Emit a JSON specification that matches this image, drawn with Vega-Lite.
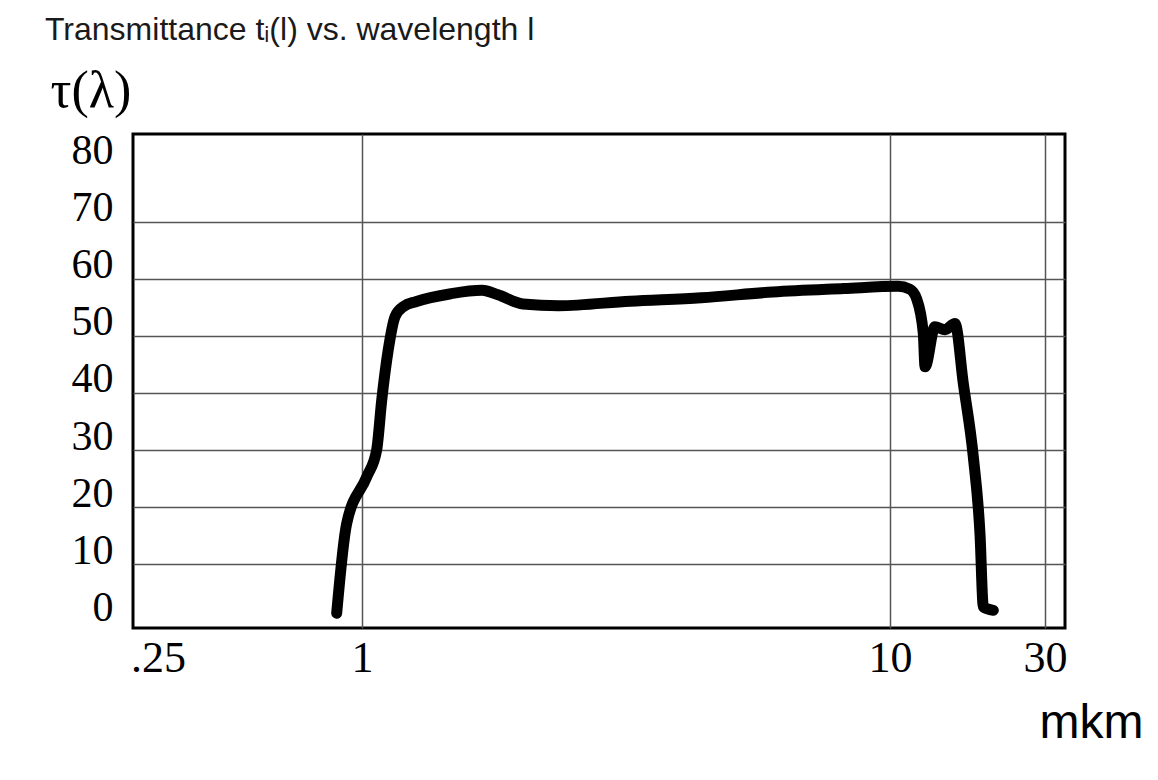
{
  "$schema": "https://vega.github.io/schema/vega-lite/v6.json",
  "width": 932,
  "height": 494,
  "autosize": {"type": "none"},
  "padding": {"left": 133, "top": 134, "right": 93, "bottom": 152},
  "background": "white",
  "title": {
    "text": "Transmittance tᵢ(l) vs. wavelength l",
    "anchor": "start",
    "frame": "group",
    "font": "Liberation Sans",
    "fontSize": 32,
    "fontWeight": "normal",
    "color": "#1a1a1a",
    "baseline": "alphabetic",
    "offset": -8,
    "dx": -88
  },
  "config": {
    "view": {"stroke": "black", "strokeWidth": 3}
  },
  "data": {
    "values": [
      {"wl": 0.842, "tau": 1.4},
      {"wl": 0.901, "tau": 17.1},
      {"wl": 1.021, "tau": 25.3},
      {"wl": 1.066, "tau": 30.0},
      {"wl": 1.090, "tau": 38.8},
      {"wl": 1.121, "tau": 47.5},
      {"wl": 1.155, "tau": 53.4},
      {"wl": 1.2, "tau": 55.2},
      {"wl": 1.264, "tau": 56.0},
      {"wl": 1.474, "tau": 57.4},
      {"wl": 1.688, "tau": 58.0},
      {"wl": 1.81, "tau": 57.2},
      {"wl": 2.018, "tau": 55.6},
      {"wl": 2.357, "tau": 55.3},
      {"wl": 3.22, "tau": 56.1},
      {"wl": 4.39, "tau": 56.7},
      {"wl": 6.0, "tau": 57.7},
      {"wl": 8.18, "tau": 58.3},
      {"wl": 10.58, "tau": 58.7},
      {"wl": 11.5, "tau": 58.2},
      {"wl": 12.08, "tau": 56.5},
      {"wl": 12.66, "tau": 50.5},
      {"wl": 12.82, "tau": 44.6},
      {"wl": 13.75, "tau": 51.6},
      {"wl": 14.77, "tau": 51.1},
      {"wl": 15.85, "tau": 52.2},
      {"wl": 16.81, "tau": 41.7},
      {"wl": 18.05, "tau": 28.8},
      {"wl": 18.92, "tau": 15.4},
      {"wl": 19.38, "tau": 2.5},
      {"wl": 20.8, "tau": 1.9}
    ]
  },
  "mark": {"type": "line", "color": "black", "strokeWidth": 11, "strokeCap": "round", "strokeJoin": "round", "interpolate": "monotone"},
  "encoding": {
    "x": {
      "field": "wl",
      "type": "quantitative",
      "scale": {"type": "log", "domain": [0.211, 1, 10, 30, 34.6], "range": [0, 229, 757, 912, 932], "nice": false, "zero": false},
      "axis": {
        "values": [0.25, 1, 10, 30],
        "labelExpr": "datum.value < 1 ? '.25' : format(datum.value, 'd')",
        "labelFont": "Liberation Serif",
        "labelFontSize": 44,
        "labelColor": "black",
        "labelPadding": 8,
        "labelFlush": false,
        "labelOverlap": false,
        "ticks": false,
        "domain": false,
        "grid": true,
        "gridColor": "#555555",
        "gridWidth": 1.5,
        "gridOpacity": {"condition": {"test": "datum.value < 1", "value": 0}, "value": 1},
        "title": "mkm",
        "titleFont": "Liberation Sans",
        "titleFontSize": 48,
        "titleFontWeight": "normal",
        "titleColor": "black",
        "titleAlign": "right",
        "titleBaseline": "alphabetic",
        "titleAnchor": null,
        "titleX": 1010,
        "titleY": 109
      }
    },
    "y": {
      "field": "tau",
      "type": "quantitative",
      "scale": {"domain": [-1.2, 85.4], "nice": false, "zero": false},
      "axis": {
        "values": [0, 10, 20, 30, 40, 50, 60, 70, 80],
        "labelFont": "Liberation Serif",
        "labelFontSize": 42,
        "labelColor": "black",
        "labelPadding": 20,
        "labelOffset": -14,
        "labelOverlap": false,
        "labelFlush": false,
        "ticks": false,
        "domain": false,
        "grid": true,
        "gridColor": "#555555",
        "gridWidth": 1.5,
        "gridOpacity": {"condition": {"test": "datum.value == 0 || datum.value == 80", "value": 0}, "value": 1},
        "title": "τ(λ)",
        "titleFont": "Liberation Serif",
        "titleFontSize": 52,
        "titleFontWeight": "normal",
        "titleColor": "black",
        "titleAngle": 0,
        "titleAlign": "left",
        "titleBaseline": "alphabetic",
        "titleX": -83,
        "titleY": -28
      }
    }
  }
}
